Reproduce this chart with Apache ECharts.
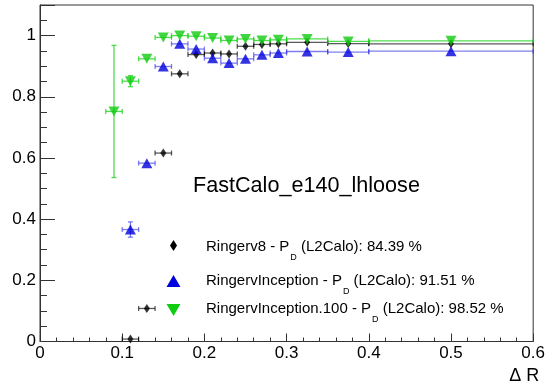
<!DOCTYPE html>
<html><head><meta charset="utf-8">
<script src="https://cdn.jsdelivr.net/npm/echarts@6/dist/echarts.min.js"></script>
<style>html,body{margin:0;padding:0;background:#fff}#c{width:548px;height:388px}</style>
</head><body><div id="c"></div>
<script>
// ---- data ----
const binCenters = [0.11, 0.13, 0.15, 0.17, 0.19, 0.21, 0.23, 0.25, 0.27, 0.29, 0.325, 0.375, 0.5];
const binHalfWidths = [0.01, 0.01, 0.01, 0.01, 0.01, 0.01, 0.01, 0.01, 0.01, 0.01, 0.025, 0.025, 0.1];

const v8Values = [0.008, 0.108, 0.616, 0.875, 0.938, 0.943, 0.940, 0.965, 0.971, 0.973, 0.978, 0.974, 0.973];
const v8Errors = [0.004, 0.006, 0.006, 0.005, 0.004, 0.004, 0.004, 0.003, 0.003, 0.003, 0.002, 0.002, 0.002];

const incValues = [0.366, 0.583, 0.899, 0.973, 0.956, 0.926, 0.910, 0.924, 0.937, 0.943, 0.948, 0.946, 0.949];
const incErrors = [0.025, 0.008, 0.006, 0.005, 0.005, 0.005, 0.005, 0.004, 0.004, 0.003, 0.003, 0.002, 0.002];

const inc100Centers = [0.09, 0.11, 0.13, 0.15, 0.17, 0.19, 0.21, 0.23, 0.25, 0.27, 0.29, 0.325, 0.375, 0.5];
const inc100HalfWidths = [0.01, 0.01, 0.01, 0.01, 0.01, 0.01, 0.01, 0.01, 0.01, 0.01, 0.01, 0.025, 0.025, 0.1];
const inc100Values = [0.752, 0.851, 0.924, 0.994, 1.0, 0.998, 0.992, 0.984, 0.989, 0.984, 0.986, 0.989, 0.981, 0.983];
const inc100Errors = [0.216, 0.018, 0.008, 0.004, 0.003, 0.003, 0.003, 0.003, 0.003, 0.002, 0.002, 0.002, 0.002, 0.001];

const seriesNames = ['Ringerv8', 'RingervInception', 'RingervInception.100'];
const efficiencies = ['84.39', '91.51', '98.52'];
const plotTitle = 'FastCalo_e140_lhloose';
const xTitle = '\u0394 R';

// ---- build ----
function rows(cx, hw, vals, errs) {
  return cx.map((x, i) => [x, vals[i], hw[i], errs[i]]);
}
const v8Data = rows(binCenters, binHalfWidths, v8Values, v8Errors);
const incData = rows(binCenters, binHalfWidths, incValues, incErrors);
const inc100Data = rows(inc100Centers, inc100HalfWidths, inc100Values, inc100Errors);

function errRender(color) {
  return function (params, api) {
    const x = api.value(0), y = api.value(1), ex = api.value(2), ey = api.value(3);
    const l = api.coord([x - ex, y]), r = api.coord([x + ex, y]);
    const b = api.coord([x, y - ey]), t = api.coord([x, y + ey]);
    const c = 2.5;
    const style = { stroke: color, lineWidth: 1.3 };
    const ch = [
      { type: 'line', shape: { x1: l[0], y1: l[1], x2: r[0], y2: r[1] }, style },
      { type: 'line', shape: { x1: l[0], y1: l[1] - c, x2: l[0], y2: l[1] + c }, style },
      { type: 'line', shape: { x1: r[0], y1: r[1] - c, x2: r[0], y2: r[1] + c }, style }
    ];
    if (b[1] - t[1] > 8) {
      ch.push({ type: 'line', shape: { x1: t[0], y1: t[1], x2: b[0], y2: b[1] }, style });
      ch.push({ type: 'line', shape: { x1: t[0] - c, y1: t[1], x2: t[0] + c, y2: t[1] }, style });
      ch.push({ type: 'line', shape: { x1: b[0] - c, y1: b[1], x2: b[0] + c, y2: b[1] }, style });
    }
    return { type: 'group', children: ch };
  };
}

const FONT = 'Liberation Sans, Arial, sans-serif';
const chart = echarts.init(document.getElementById('c'), null, { renderer: 'canvas' });

const colors = { v8: '#000000', inc: '#0000dd', inc100: '#11cc11' };
const barColors = { v8: 'rgba(0,0,0,0.65)', inc: 'rgba(40,40,230,0.6)', inc100: 'rgba(20,210,20,0.75)' };

function legendText(i, top) {
  return {
    type: 'text', left: 206, top: top,
    style: {
      text: '{m|' + seriesNames[i] + ' - P}{s|D}{m| (L2Calo): ' + efficiencies[i] + ' %}',
      rich: {
        m: { fontSize: 15, lineHeight: 15, verticalAlign: 'top', fontFamily: FONT, fill: '#000' },
        s: { fontSize: 9, lineHeight: 9, verticalAlign: 'top', padding: [14, 0, 0, 1], fontFamily: FONT, fill: '#000' }
      }
    }
  };
}

chart.setOption({
  animation: false,
  backgroundColor: '#fff',
  grid: { left: 40, right: 11, top: 5, bottom: 46.5, show: true, borderColor: '#333', borderWidth: 1, backgroundColor: 'transparent' },
  xAxis: {
    type: 'value', min: 0, max: 0.6, interval: 0.1,
    axisLine: { show: true, onZero: false, lineStyle: { color: '#333', width: 1 } },
    axisTick: { inside: true, length: 8, lineStyle: { color: '#333' } },
    minorTick: { show: true, splitNumber: 5, length: 4, lineStyle: { color: '#333' } },
    splitLine: { show: false },
    axisLabel: { fontSize: 17, color: '#000', fontFamily: FONT, margin: 3 },
    name: xTitle, nameLocation: 'end', nameGap: 6,
    nameTextStyle: { fontSize: 18, color: '#000', fontFamily: FONT, align: 'right', verticalAlign: 'top', padding: [26, 0, 0, 0] }
  },
  yAxis: {
    type: 'value', min: 0, max: 1.1, interval: 0.2,
    axisLine: { show: true, onZero: false, lineStyle: { color: '#333', width: 1 } },
    axisTick: { inside: true, length: 15, lineStyle: { color: '#333' } },
    minorTick: { show: true, splitNumber: 4, length: 7, lineStyle: { color: '#333' } },
    splitLine: { show: false },
    axisLabel: { fontSize: 17, color: '#000', fontFamily: FONT, margin: 4, showMaxLabel: false }
  },
  series: [
    { type: 'custom', name: seriesNames[0] + ' err', data: v8Data, renderItem: errRender(barColors.v8), encode: { x: 0, y: 1 }, z: 2, silent: true },
    { type: 'scatter', name: seriesNames[0], data: v8Data, encode: { x: 0, y: 1 }, symbol: 'diamond', symbolSize: [6, 9], itemStyle: { color: colors.v8 }, z: 3 },
    { type: 'custom', name: seriesNames[1] + ' err', data: incData, renderItem: errRender(barColors.inc), encode: { x: 0, y: 1 }, z: 4, silent: true },
    { type: 'scatter', name: seriesNames[1], data: incData, encode: { x: 0, y: 1 }, symbol: 'triangle', symbolSize: [11, 10], itemStyle: { color: colors.inc }, z: 5 },
    { type: 'custom', name: seriesNames[2] + ' err', data: inc100Data, renderItem: errRender(barColors.inc100), encode: { x: 0, y: 1 }, z: 6, silent: true },
    { type: 'scatter', name: seriesNames[2], data: inc100Data, encode: { x: 0, y: 1 }, symbol: 'triangle', symbolRotate: 180, symbolSize: [11, 10], itemStyle: { color: colors.inc100 }, z: 7 }
  ],
  graphic: [
    { type: 'text', left: 193, top: 175, style: { text: plotTitle, fontSize: 21.6, fontFamily: FONT, fill: '#000' } },
    { type: 'polygon', shape: { points: [[173.5, 240], [177, 245.5], [173.5, 251], [170, 245.5]] }, style: { fill: colors.v8 } },
    { type: 'polygon', shape: { points: [[173.5, 275], [180.5, 287], [166.5, 287]] }, style: { fill: colors.inc } },
    { type: 'polygon', shape: { points: [[166.5, 304], [180.5, 304], [173.5, 316]] }, style: { fill: colors.inc100 } },
    legendText(0, 239.5),
    legendText(1, 273.5),
    legendText(2, 301.5)
  ]
});
</script>
</body></html>
